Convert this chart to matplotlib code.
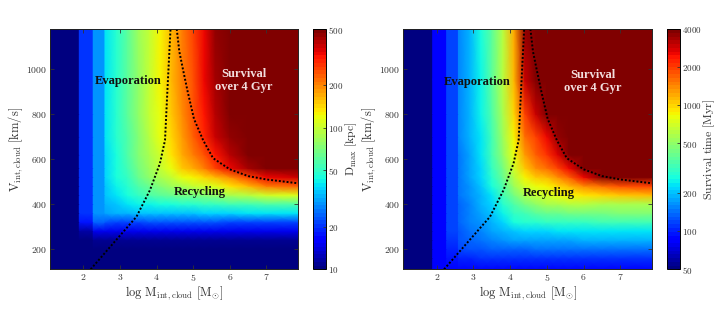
import numpy as np
import matplotlib
matplotlib.use("Agg")
import matplotlib.pyplot as plt
from matplotlib.colors import LogNorm
from matplotlib.ticker import FixedLocator, FixedFormatter, NullLocator

plt.rcParams['font.family'] = ['Liberation Serif', 'DejaVu Serif']
plt.rcParams['mathtext.fontset'] = 'cm'

# ---- grid (vertex positions) ----
log_mass = [1.09, 1.89, 1.89, 2.27, 2.27, 2.59, 2.59, 2.9, 3.2, 3.5, 3.8, 4.1,
            4.4, 4.7, 5.0, 5.3, 5.6, 6.0, 6.5, 7.0, 7.86]
velocity = [110, 160, 200, 240, 280, 320, 360, 400, 440, 480, 520, 560, 620,
            700, 800, 950, 1180]

# ---- D_max [kpc], one row per velocity ----
dmax = [
    [8, 8, 9, 9, 9, 9, 9, 9, 9, 9, 9, 9, 9, 9, 9, 9, 9, 9, 9, 9, 9],
    [8, 8, 9, 9, 9, 9, 9, 9, 9, 9, 9, 9, 9, 9, 9, 9, 9, 9, 9, 9, 9],
    [8, 8, 9, 9, 9, 9, 9, 9, 9, 9, 9, 9, 9, 9, 9, 9, 9, 9, 9, 9, 9],
    [8, 8, 10, 10, 11, 11, 11, 11, 11, 11, 11, 11, 11, 11, 11, 11, 11, 11, 11, 11, 11],
    [8, 8, 12, 12, 15, 15, 15, 15, 15, 15, 15, 15, 15, 15, 15, 15, 15, 15, 15, 15, 15],
    [8, 8, 18, 18, 24, 24, 23, 22, 22, 22, 23, 23, 23, 23, 23, 23, 23, 22, 22, 21, 21],
    [8, 8, 20, 20, 30, 30, 31, 32, 33, 34, 34, 35, 35, 36, 36, 37, 37, 38, 39, 40, 40],
    [8, 8, 20, 20, 30, 30, 33, 36, 39, 41, 43, 45, 46, 47, 48, 50, 51, 53, 54, 56, 57],
    [8, 8, 20, 20, 30, 30, 35, 40, 45, 51, 56, 61, 65, 68, 70, 73, 78, 85, 95, 105, 112],
    [8, 8, 20, 20, 30, 30, 36, 42, 49, 58, 66, 74, 82, 90, 96, 104, 115, 135, 165, 210, 240],
    [8, 8, 20, 20, 30, 30, 37, 44, 52, 64, 76, 88, 102, 116, 128, 145, 165, 195, 260, 340, 380],
    [8, 8, 20, 20, 30, 30, 38, 45, 54, 68, 82, 98, 120, 148, 175, 210, 260, 330, 420, 480, 520],
    [8, 8, 20, 20, 30, 30, 38, 46, 56, 72, 88, 108, 135, 170, 205, 255, 320, 410, 500, 560, 600],
    [8, 8, 20, 20, 30, 30, 39, 47, 58, 75, 93, 116, 145, 185, 230, 290, 370, 470, 560, 600, 600],
    [8, 8, 20, 20, 30, 30, 39, 48, 59, 78, 96, 120, 152, 195, 245, 310, 400, 510, 600, 600, 600],
    [8, 8, 20, 20, 30, 30, 39, 48, 60, 79, 98, 124, 157, 200, 255, 330, 430, 540, 600, 600, 600],
    [8, 8, 20, 20, 30, 30, 39, 48, 60, 80, 100, 127, 160, 205, 260, 340, 450, 560, 600, 600, 600],
]

# ---- Survival time [Myr], one row per velocity ----
survival = [
    [45, 45, 86, 86, 88, 88, 88, 88, 88, 88, 88, 88, 88, 88, 88, 88, 88, 88, 88, 88, 88],
    [45, 45, 86, 86, 96, 96, 104, 106, 107, 108, 108, 108, 108, 108, 108, 108, 108, 108, 108, 108, 108],
    [45, 45, 86, 86, 104, 104, 115, 124, 130, 135, 137, 138, 139, 140, 140, 140, 140, 140, 140, 140, 140],
    [45, 45, 86, 86, 110, 110, 122, 134, 145, 158, 168, 175, 178, 180, 180, 182, 183, 185, 185, 185, 185],
    [45, 45, 86, 86, 114, 114, 128, 142, 155, 172, 195, 210, 220, 225, 225, 228, 230, 230, 230, 230, 230],
    [45, 45, 86, 86, 116, 116, 132, 150, 168, 190, 225, 260, 280, 295, 300, 305, 310, 315, 318, 320, 320],
    [45, 45, 86, 86, 118, 118, 135, 155, 176, 205, 250, 300, 340, 370, 390, 405, 420, 430, 440, 450, 450],
    [45, 45, 86, 86, 120, 120, 138, 160, 185, 220, 280, 360, 440, 510, 560, 580, 590, 590, 580, 570, 570],
    [45, 45, 86, 86, 120, 120, 140, 164, 195, 240, 320, 440, 560, 640, 720, 780, 840, 900, 960, 1050, 1100],
    [45, 45, 86, 86, 120, 120, 142, 168, 203, 260, 360, 520, 680, 790, 880, 1000, 1150, 1350, 1550, 1800, 2000],
    [45, 45, 86, 86, 120, 120, 144, 172, 212, 280, 400, 600, 860, 1020, 1120, 1350, 1700, 2500, 3800, 4300, 4500],
    [45, 45, 86, 86, 120, 120, 146, 176, 222, 300, 440, 680, 1050, 1350, 1550, 1900, 2500, 3800, 4500, 4500, 4500],
    [45, 45, 86, 86, 120, 120, 148, 180, 232, 320, 480, 780, 1300, 1750, 2100, 2700, 3800, 4500, 4500, 4500, 4500],
    [45, 45, 86, 86, 120, 120, 150, 184, 240, 340, 520, 880, 1550, 2000, 2500, 3500, 4500, 4500, 4500, 4500, 4500],
    [45, 45, 86, 86, 120, 120, 150, 186, 250, 355, 570, 1000, 2000, 2900, 3900, 4500, 4500, 4500, 4500, 4500, 4500],
    [45, 45, 86, 86, 120, 120, 150, 188, 255, 370, 600, 1100, 2900, 3900, 4500, 4500, 4500, 4500, 4500, 4500, 4500],
    [45, 45, 86, 86, 120, 120, 150, 190, 260, 380, 620, 1200, 3600, 4500, 4500, 4500, 4500, 4500, 4500, 4500, 4500],
]

# ---- region boundaries ----
evap_logm = [2.20, 2.77, 3.45, 3.82, 4.09, 4.23, 4.30, 4.38]
evap_vel = [110, 217, 344, 463, 581, 685, 923, 1180]
surv_logm = [4.55, 4.62, 4.72, 4.85, 5.02, 5.27, 5.54, 6.0, 6.5, 7.0, 7.86]
surv_vel = [1180, 1080, 1000, 900, 780, 685, 605, 555, 525, 510, 493]

dmax_ticks = [10, 20, 50, 100, 200, 500]
surv_ticks = [50, 100, 200, 500, 1000, 2000, 4000]

cmap = plt.get_cmap('jet', 64)
W, H = 720, 312
fig = plt.figure(figsize=(W / 100, H / 100), dpi=100)

def frac(x0, x1, ytop, ybot):
    return [x0 / W, (H - ybot) / H, (x1 - x0) / W, (ybot - ytop) / H]

panels = [
    dict(ax=frac(50, 298, 29, 269.3), cb=frac(313, 326, 29, 269.3), data=dmax,
         vmin=10, vmax=500, ticks=dmax_ticks, clabel=r'$\mathrm{D_{max}\ [kpc]}$',
         cbx=344, evap=(3.23, 948), surv=(6.38, 952), recy=(5.18, 452)),
    dict(ax=frac(403.3, 652, 29, 269.3), cb=frac(667, 680, 29, 269.3), data=survival,
         vmin=50, vmax=4000, ticks=surv_ticks, clabel=r'$\mathrm{Survival\ time\ [Myr]}$',
         cbx=702, evap=(3.11, 942), surv=(6.25, 945), recy=(5.04, 448)),
]

tcol = '#333333'
for p in panels:
    ax = fig.add_axes(p['ax'])
    norm = LogNorm(vmin=p['vmin'], vmax=p['vmax'])
    mesh = ax.pcolormesh(log_mass, velocity, np.array(p['data'], float), cmap=cmap,
                         norm=norm, shading='gouraud', rasterized=True)
    ax.plot(evap_logm, evap_vel, color='black', lw=1.4, ls=(0, (1, 1)))
    ax.plot(surv_logm, surv_vel, color='black', lw=1.4, ls=(0, (1, 1)))
    ax.set_xlim(1.09, 7.86)
    ax.set_ylim(110, 1180)
    ax.xaxis.set_major_locator(FixedLocator([2, 3, 4, 5, 6, 7]))
    ax.xaxis.set_major_formatter(FixedFormatter([r'$%d$' % v for v in [2, 3, 4, 5, 6, 7]]))
    ax.yaxis.set_major_locator(FixedLocator([200, 400, 600, 800, 1000]))
    ax.yaxis.set_major_formatter(FixedFormatter([r'$%d$' % v for v in [200, 400, 600, 800, 1000]]))
    ax.tick_params(direction='in', top=True, right=True, length=3, width=0.6,
                   labelsize=7, colors=tcol, pad=2)
    for s in ax.spines.values():
        s.set_linewidth(0.7)
        s.set_color('#222222')
    ax.set_xlabel(r'$\mathrm{log\ M_{int,cloud}\ [M_{\odot}]}$', fontsize=9, color=tcol, labelpad=1)
    ax.set_ylabel(r'$\mathrm{V_{int,cloud}\ [km/s]}$', fontsize=9, color=tcol)
    ax.yaxis.set_label_coords(-25 / 248.5, 0.5)
    ax.text(*p['evap'], 'Evaporation', fontsize=9, fontweight='bold', ha='center', va='center',
            color='#111111')
    ax.text(*p['surv'], 'Survival\nover 4 Gyr', fontsize=9, fontweight='bold', ha='center',
            va='center', color='#f2dede', linespacing=1.1)
    ax.text(*p['recy'], 'Recycling', fontsize=9, fontweight='bold', ha='center', va='center',
            color='#111111')

    cax = fig.add_axes(p['cb'])
    cb = fig.colorbar(mesh, cax=cax)
    cb.set_ticks(p['ticks'])
    cb.set_ticklabels([r'$%d$' % t for t in p['ticks']])
    cax.yaxis.set_minor_locator(NullLocator())
    cax.tick_params(direction='in', length=2, width=0.6, labelsize=6.5, colors=tcol, pad=1.5)
    cb.outline.set_linewidth(0.7)
    cb.set_label(p['clabel'], fontsize=8.5, color=tcol)
    x0 = p['cb'][0] * W
    cax.yaxis.set_label_coords((p['cbx'] - x0) / 13.0, 0.5)

fig.savefig('out.png', dpi=100)
